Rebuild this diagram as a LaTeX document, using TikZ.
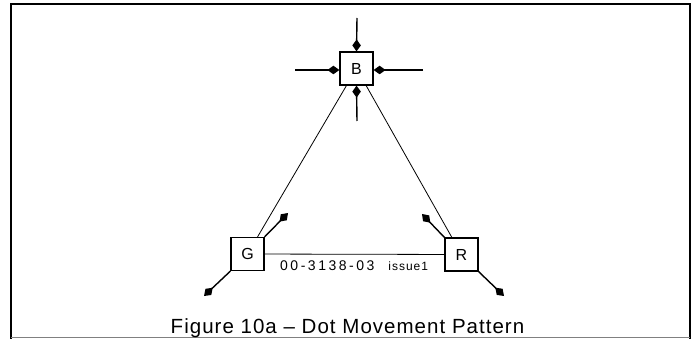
\documentclass[tikz,border=0pt]{standalone}
\usepackage{fontspec}
\setmainfont{Liberation Sans}
\usetikzlibrary{arrows.meta,positioning}

\tikzset{
  gunbox/.style={draw,line width=1.2pt,minimum size=33pt,inner sep=0pt,font=\fontsize{16}{16}\selectfont},
  dotmove/.style={line width=1.4pt,-{Kite[length=12pt,width=8.5pt,inset=6pt]}},
  beam/.style={line width=0.8pt}
}

\begin{document}
\begin{tikzpicture}[x=1pt,y=-1pt]
\useasboundingbox (0,0) rectangle (696,339);
\draw[line width=2pt] (11,339) -- (11,4) -- (689.5,4) -- (689.5,339);
\draw[gray,line width=0.8pt] (11,337.5) -- (689.5,337.5);

\node[gunbox] (B) at (356.5,68.5) {B};
\node[gunbox] (G) at (247.5,254) {G};
\node[gunbox] (R) at (461.5,254.5) {R};

\coordinate (Btop) at (357,18);
\coordinate (Bleft) at (295,70);
\coordinate (Bright) at (423,70);
\coordinate (Bbot) at (357,121);
\coordinate (Gup) at (288,213);
\coordinate (Gdn) at (204,296);
\coordinate (Rup) at (422,214);
\coordinate (Rdn) at (504,296);

\draw[beam] (B) -- (G);
\draw[beam] (B) -- (R);
\draw[beam] (G) -- (R);

\draw[dotmove] (Btop) -- (B.north);
\draw[dotmove] (Bleft) -- (B.west |- Bleft);
\draw[dotmove] (Bright) -- (B.east |- Bright);
\draw[dotmove] (Bbot) -- (B.south);
\draw[dotmove] (G.north east) -- (Gup);
\draw[dotmove] (G.south west) -- (Gdn);
\draw[dotmove] (R.north west) -- (Rup);
\draw[dotmove] (R.south east) -- (Rdn);

\node[anchor=base west,inner sep=0pt,font=\fontsize{14}{14}\selectfont\addfontfeature{LetterSpace=18}] (drg) at (280,270) {00-3138-03\hspace{14pt}{\fontsize{12}{12}\selectfont\addfontfeature{LetterSpace=8}issue1}};
\node[anchor=base,inner sep=0pt,font=\fontsize{20.5}{20.5}\selectfont\addfontfeature{LetterSpace=5}] (cap) at (347.5,333) {Figure 10a -- Dot Movement Pattern};
\end{tikzpicture}
\end{document}
